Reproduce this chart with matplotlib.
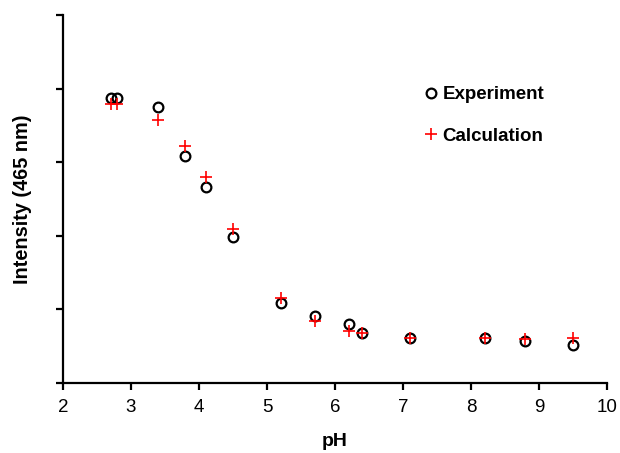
import matplotlib.pyplot as plt

plt.rcParams['font.family'] = ['Liberation Sans', 'DejaVu Sans']

# pH titration: measured vs calculated emission intensity at 465 nm
ph = [2.7, 2.8, 3.4, 3.8, 4.1, 4.5, 5.2, 5.7, 6.2, 6.4, 7.1, 8.2, 8.8, 9.5]
experiment = [3.87, 3.87, 3.75, 3.08, 2.66, 1.99, 1.09, 0.91, 0.80, 0.68, 0.61, 0.61, 0.57, 0.52]
calculation = [3.79, 3.79, 3.57, 3.22, 2.80, 2.09, 1.15, 0.84, 0.71, 0.68, 0.61, 0.61, 0.60, 0.61]
x_ticks = [2, 3, 4, 5, 6, 7, 8, 9, 10]

fig = plt.figure(figsize=(6.2, 4.53), dpi=100)
ax = fig.add_axes([0.1016, 0.1545, 0.8774, 0.8125])

ax.plot(ph, experiment, linestyle='none', marker='o', markersize=7,
        markerfacecolor='none', markeredgecolor='black', markeredgewidth=1.6,
        label='Experiment')
ax.plot(ph, calculation, linestyle='none', marker='+', markersize=8,
        color='red', markeredgewidth=1.2, label='Calculation')

ax.set_xlim(2, 10)
ax.set_ylim(0, 5)
ax.set_xticks(x_ticks)
ax.set_yticks([0, 1, 2, 3, 4, 5])
ax.set_yticklabels([])

for side in ['top', 'right']:
    ax.spines[side].set_visible(False)
for side in ['left', 'bottom']:
    ax.spines[side].set_linewidth(1.6)
ax.tick_params(axis='both', direction='out', length=5, width=1.6, labelsize=13.5)
ax.tick_params(axis='x', pad=6.5)

ax.set_xlabel('pH', fontsize=14, fontweight='bold', labelpad=12)
ax.set_ylabel('Intensity (465 nm)', fontsize=14.3, fontweight='bold', labelpad=14)

leg = ax.legend(loc='upper left', bbox_to_anchor=(0.632, 0.852), frameon=False,
                handlelength=0.8, handletextpad=0.2, labelspacing=1.3,
                prop={'weight': 'bold', 'size': 13.5})

fig.savefig('out.png', dpi=100)
